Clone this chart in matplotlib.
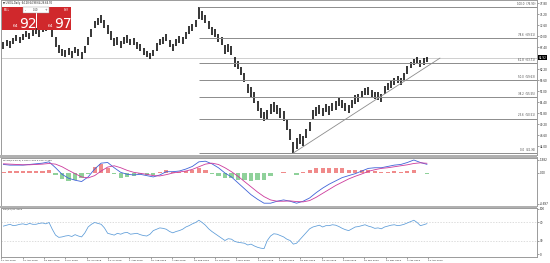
import numpy as np
import matplotlib.pyplot as plt
from matplotlib.patches import Rectangle

# ---- data ----
lows = [67.0, 67.6, 67.3, 68.1, 68.8, 68.4, 69.0, 69.8, 69.3, 70.1,
        70.4, 69.9, 70.9, 71.2, 71.8, 69.8, 67.4, 66.1, 65.3, 65.0,
        65.5, 64.8, 65.9, 65.3, 64.7, 65.9, 67.9, 69.8, 71.9, 72.6,
        73.1, 72.0, 70.5, 69.2, 67.6, 68.0, 67.2, 68.2, 68.5, 67.8,
        68.0, 67.0, 66.5, 65.5, 65.0, 64.5, 65.2, 66.6, 67.8, 68.2,
        68.8, 67.4, 66.6, 67.7, 68.4, 68.2, 69.3, 70.6, 71.2, 72.1,
        74.0, 73.8, 73.0, 71.6, 70.2, 69.9, 68.6, 67.9, 65.7, 66.2,
        65.5, 62.7, 62.2, 60.8, 59.1, 56.5, 55.7, 54.3, 52.2, 50.6,
        49.9, 50.3, 51.6, 52.1, 51.5, 50.7, 50.0, 47.8, 45.5, 42.36,
        43.3, 44.4, 44.1, 45.9, 47.5, 50.3, 51.2, 51.6, 51.0, 52.0,
        51.4, 52.3, 52.6, 53.4, 53.0, 52.2, 51.8, 52.9, 54.0, 54.5,
        55.3, 56.0, 56.1, 55.5, 55.1, 54.9, 54.4, 56.3, 57.2, 57.8,
        58.4, 59.0, 58.5, 59.6, 61.1, 62.4, 63.1, 63.4, 62.8, 63.2,
        63.9]
highs = [68.6, 69.1, 68.8, 69.6, 70.2, 69.9, 70.5, 71.3, 70.8, 71.5,
         71.9, 71.4, 72.3, 72.8, 73.6, 72.3, 69.8, 68.0, 67.0, 66.7,
         67.1, 66.4, 67.5, 67.0, 66.3, 67.7, 69.8, 71.8, 73.7, 74.3,
         75.1, 73.9, 72.6, 71.3, 69.5, 69.8, 68.9, 69.9, 70.2, 69.4,
         69.6, 68.7, 68.1, 67.1, 66.6, 66.0, 66.8, 68.3, 69.4, 69.8,
         70.4, 69.1, 68.2, 69.3, 70.0, 69.8, 71.0, 72.3, 72.9, 73.9,
         76.9, 75.9, 75.0, 73.6, 72.2, 71.7, 70.6, 69.9, 67.9, 68.2,
         67.7, 65.0, 64.2, 62.8, 61.3, 58.8, 57.9, 56.7, 54.6, 53.0,
         52.0, 52.5, 54.0, 54.5, 53.7, 52.9, 52.4, 50.2, 48.0, 44.9,
         45.9, 46.8, 46.3, 48.1, 49.7, 52.5, 53.2, 53.6, 53.0, 54.0,
         53.4, 54.3, 54.6, 55.4, 55.0, 54.2, 53.8, 54.9, 56.0, 56.3,
         57.1, 57.8, 57.9, 57.3, 56.9, 56.7, 56.2, 58.1, 59.0, 59.4,
         60.0, 60.6, 60.1, 61.2, 62.9, 64.0, 64.7, 65.0, 64.4, 64.8,
         65.1]

macd_main = [1.3, 1.2, 1.2, 1.2, 1.3, 1.4, 1.5, 1.7, 0.8, -0.2,
             -0.8, -1.1, -1.3, -0.6, 0.6, 1.5, 1.6, 0.8, 0.1, -0.2,
             -0.3, -0.2, -0.4, -0.6, -0.3, 0.2, 0.2, 0.3, 0.6, 1.0,
             1.7, 1.8, 1.4, 0.8, 0.0, -0.6, -1.5, -2.4, -3.3, -4.0,
             -4.6, -4.6, -4.3, -4.1, -4.3, -4.6, -4.3, -3.8, -3.0, -2.3,
             -1.7, -1.2, -0.7, -0.4, -0.1, 0.3, 0.7, 0.8, 0.8, 1.0,
             1.2, 1.3, 1.6, 1.98, 1.6, 1.32]
macd_signal = [1.4, 1.35, 1.3, 1.25, 1.25, 1.3, 1.35, 1.45, 1.35, 0.95,
               0.4, -0.1, -0.6, -0.75, -0.4, 0.3, 0.9, 1.1, 0.8, 0.4,
               0.1, -0.05, -0.2, -0.4, -0.45, -0.25, 0.0, 0.15, 0.3, 0.55,
               0.95, 1.35, 1.5, 1.3, 0.8, 0.2, -0.5, -1.3, -2.1, -2.9,
               -3.6, -4.1, -4.3, -4.3, -4.25, -4.35, -4.4, -4.2, -3.7, -3.1,
               -2.5, -1.9, -1.4, -0.9, -0.5, -0.15, 0.25, 0.5, 0.7, 0.8,
               0.95, 1.1, 1.25, 1.45, 1.55, 1.48]
macd_hist = [0.2, 0.3, 0.25, 0.3, 0.35, 0.3, 0.35, 0.4, -0.3, -0.9,
             -1.2, -1.0, -0.7, -0.2, 0.9, 1.3, 0.8, -0.2, -0.7, -0.6,
             -0.4, -0.2, -0.3, -0.3, 0.1, 0.4, 0.2, 0.2, 0.3, 0.5,
             0.8, 0.5, -0.1, -0.5, -0.8, -0.8, -1.0, -1.1, -1.2, -1.1,
             -1.0, -0.5, 0.0, 0.2, -0.05, -0.25, 0.1, 0.4, 0.7, 0.8,
             0.8, 0.7, 0.7, 0.5, 0.4, 0.45, 0.45, 0.3, 0.1, 0.2,
             0.25, 0.2, 0.35, 0.5, 0.05, -0.155]

rsi = [62, 64, 66, 63, 64, 66, 67, 65, 68, 66,
       66, 68, 69, 67, 70, 55, 42, 37, 38, 40,
       41, 39, 43, 40, 38, 47, 60, 66, 70, 68,
       66, 58, 46, 44, 42, 46, 44, 47, 48, 44,
       45, 46, 43, 41, 40, 44, 52, 55, 58, 57,
       55, 50, 47, 50, 52, 55, 60, 63, 67, 70,
       75, 70, 64, 56, 50, 45, 40, 35, 30, 34,
       33, 28, 26, 25, 24, 20, 22, 18, 15, 13,
       12, 30, 40, 45, 44, 41, 38, 33, 30, 22,
       24, 32, 40, 48, 56, 60, 62, 64, 60, 63,
       63, 65, 64, 61, 57, 54, 52, 56, 60, 61,
       63, 65, 62, 60, 57, 58, 56, 60, 62, 64,
       65, 63, 64, 66, 69, 72, 75, 70, 63, 65,
       67.4]

fib_pct = ["100.0", "78.6", "61.8", "50.0", "38.2", "23.6", "0.0"]
fib_price = [76.90, 69.51, 63.71, 59.63, 55.55, 50.51, 42.36]
fib_start = 60  # bar of the swing high

trend_bars = [89, 134]
trend_prices = [42.36, 64.8]

bid = 64.92

price_ticks = [44.00, 46.60, 49.20, 51.80, 54.40, 57.00, 59.60, 62.20,
               67.40, 70.00, 72.60, 75.20, 77.80]

date_labels = ["11 Apr 2018", "30 Apr 2018", "18 May 2018", "6 Jun 2018",
               "26 Jun 2018", "13 Jul 2018", "1 Aug 2018", "20 Aug 2018",
               "7 Sep 2018", "26 Sep 2018", "15 Oct 2018", "2 Nov 2018",
               "21 Nov 2018", "10 Dec 2018", "28 Dec 2018", "18 Jan 2019",
               "6 Feb 2019", "25 Feb 2019", "15 Mar 2019", "4 Apr 2019",
               "23 Apr 2019"]

bars = np.arange(len(lows))
sub = bars[::2]          # MACD read every second bar
ticks_x = np.arange(len(date_labels)) * 6.55 - 0.6

# ---- layout in pixels of a 550 x 263 picture ----
W, H = 550, 263
def fx(px): return px / W
def fy(py): return 1 - py / H

fig = plt.figure(figsize=(5.5, 2.63), dpi=100)
fig.patch.set_facecolor('white')
ax = fig.add_axes([fx(0.5), fy(155), fx(536.5), 155 / H])
ax_m = fig.add_axes([fx(0.5), fy(205.5), fx(536.5), 48 / H])
ax_r = fig.add_axes([fx(0.5), fy(256.5), fx(536.5), 49 / H])

xlim = (-0.9, 163.8)
frame = '#9a9a9a'
for a in (ax, ax_m, ax_r):
    a.set_xlim(*xlim)
    for s in a.spines.values():
        s.set_color(frame)
        s.set_linewidth(0.7)
    a.yaxis.tick_right()
    a.tick_params(axis='y', length=1.5, width=0.4, labelsize=2.0, pad=0.8,
                  color='#555555', labelcolor='#222222')
    a.tick_params(axis='x', bottom=False, labelbottom=False)

# separators between windows
for y0, y1 in [(155, 157.5), (205.5, 207.5)]:
    fig.add_artist(Rectangle((0, fy(y1)), fx(537), (y1 - y0) / H,
                             transform=fig.transFigure, color='#b0b0b0', lw=0))

# ---- price window ----
ax.set_ylim(41.887, 78.556)
ax.axhline(bid, color='#c8c8c8', lw=0.6)
ax.vlines(bars, lows, highs, color='black', lw=1.1)
for pct, p in zip(fib_pct, fib_price):
    ax.hlines(p, fib_start, xlim[1], color='#8c8c8c', lw=0.7)
    ax.text(xlim[1] - 0.6, p + 0.25, f"{pct}  ({p:.2f})", ha='right',
            va='bottom', fontsize=1.9, color='#444444')
ax.plot(trend_bars, trend_prices, color='#8c8c8c', lw=0.6)
ax.set_yticks(price_ticks)
ax.set_yticklabels([f"{v:.2f}" for v in price_ticks])
ax.text(1.003, bid, f"{bid:.2f}", transform=ax.get_yaxis_transform(),
        va='center', ha='left', fontsize=2.0, color='white',
        bbox=dict(boxstyle='square,pad=0.25', fc='black', ec='black', lw=0))
ax.text(0.004, 0.993, "\u25bc USOIL,Daily  64.28 64.98 64.26 64.92",
        transform=ax.transAxes, va='top', fontsize=1.8, color='#222222')

# one-click trading panel
red = '#d0282c'
fig.add_artist(Rectangle((fx(2), fy(30)), fx(34), 23 / H,
                         transform=fig.transFigure, color=red, lw=0))
fig.add_artist(Rectangle((fx(37), fy(30)), fx(34), 23 / H,
                         transform=fig.transFigure, color=red, lw=0))
fig.add_artist(Rectangle((fx(23), fy(13)), fx(26), 6 / H,
                         transform=fig.transFigure, fc='white',
                         ec='#999999', lw=0.3))
fig.text(fx(4), fy(10), "SELL", fontsize=1.8, color='white', va='center')
fig.text(fx(69), fy(10), "BUY", fontsize=1.8, color='white', va='center',
         ha='right')
fig.text(fx(25), fy(10), "-", fontsize=2.2, color='#333333', va='center')
fig.text(fx(36), fy(10), "0.10", fontsize=1.8, color='#333333',
         va='center', ha='center')
fig.text(fx(47), fy(10), "+", fontsize=2.2, color='#333333', va='center',
         ha='right')
fig.text(fx(13), fy(27), "64", fontsize=3.2, color='white', va='baseline')
fig.text(fx(19), fy(27.5), "92", fontsize=10, color='white', va='baseline')
fig.text(fx(48), fy(27), "64", fontsize=3.2, color='white', va='baseline')
fig.text(fx(54), fy(27.5), "97", fontsize=10, color='white', va='baseline')

# ---- MACD window ----
ax_m.set_ylim(-4.95, 2.36)
cols = ['#f08a8a' if v >= 0 else '#8fd19a' for v in macd_hist]
ax_m.bar(sub, macd_hist, width=1.3, color=cols, lw=0)
ax_m.plot(sub, macd_main, color='#3f63d8', lw=0.6)
ax_m.plot(sub, macd_signal, color='#cc3a9c', lw=0.6)
ax_m.set_yticks([1.982, 0.0, -4.697])
ax_m.set_yticklabels(["1.982", "0.00", "-4.697"])
ax_m.text(0.004, 0.97, "MACD(12,26,9) 1.323 1.479 0.000 -0.155",
          transform=ax_m.transAxes, va='top', fontsize=1.7, color='#222222')

# ---- RSI window ----
ax_r.set_ylim(-5.5, 103.3)
for lvl in (70, 30):
    ax_r.axhline(lvl, color='#cfcfcf', lw=0.5, ls=(0, (2, 2)))
ax_r.plot(bars, rsi, color='#5b9bd8', lw=0.55)
ax_r.set_yticks([100, 70, 30, 0])
ax_r.set_yticklabels(["100", "70", "30", "0"])
ax_r.text(0.004, 0.97, "RSI(14) 67.4423", transform=ax_r.transAxes,
          va='top', fontsize=1.7, color='#222222')
ax_r.set_xticks(ticks_x)
ax_r.set_xticklabels(date_labels)
ax_r.tick_params(axis='x', bottom=True, labelbottom=True, length=1.5,
                 width=0.4, labelsize=1.7, pad=0.8, color='#555555',
                 labelcolor='#222222')
for lab in ax_r.get_xticklabels():
    lab.set_ha('left')

fig.savefig('out.png', dpi=100, facecolor='white')
